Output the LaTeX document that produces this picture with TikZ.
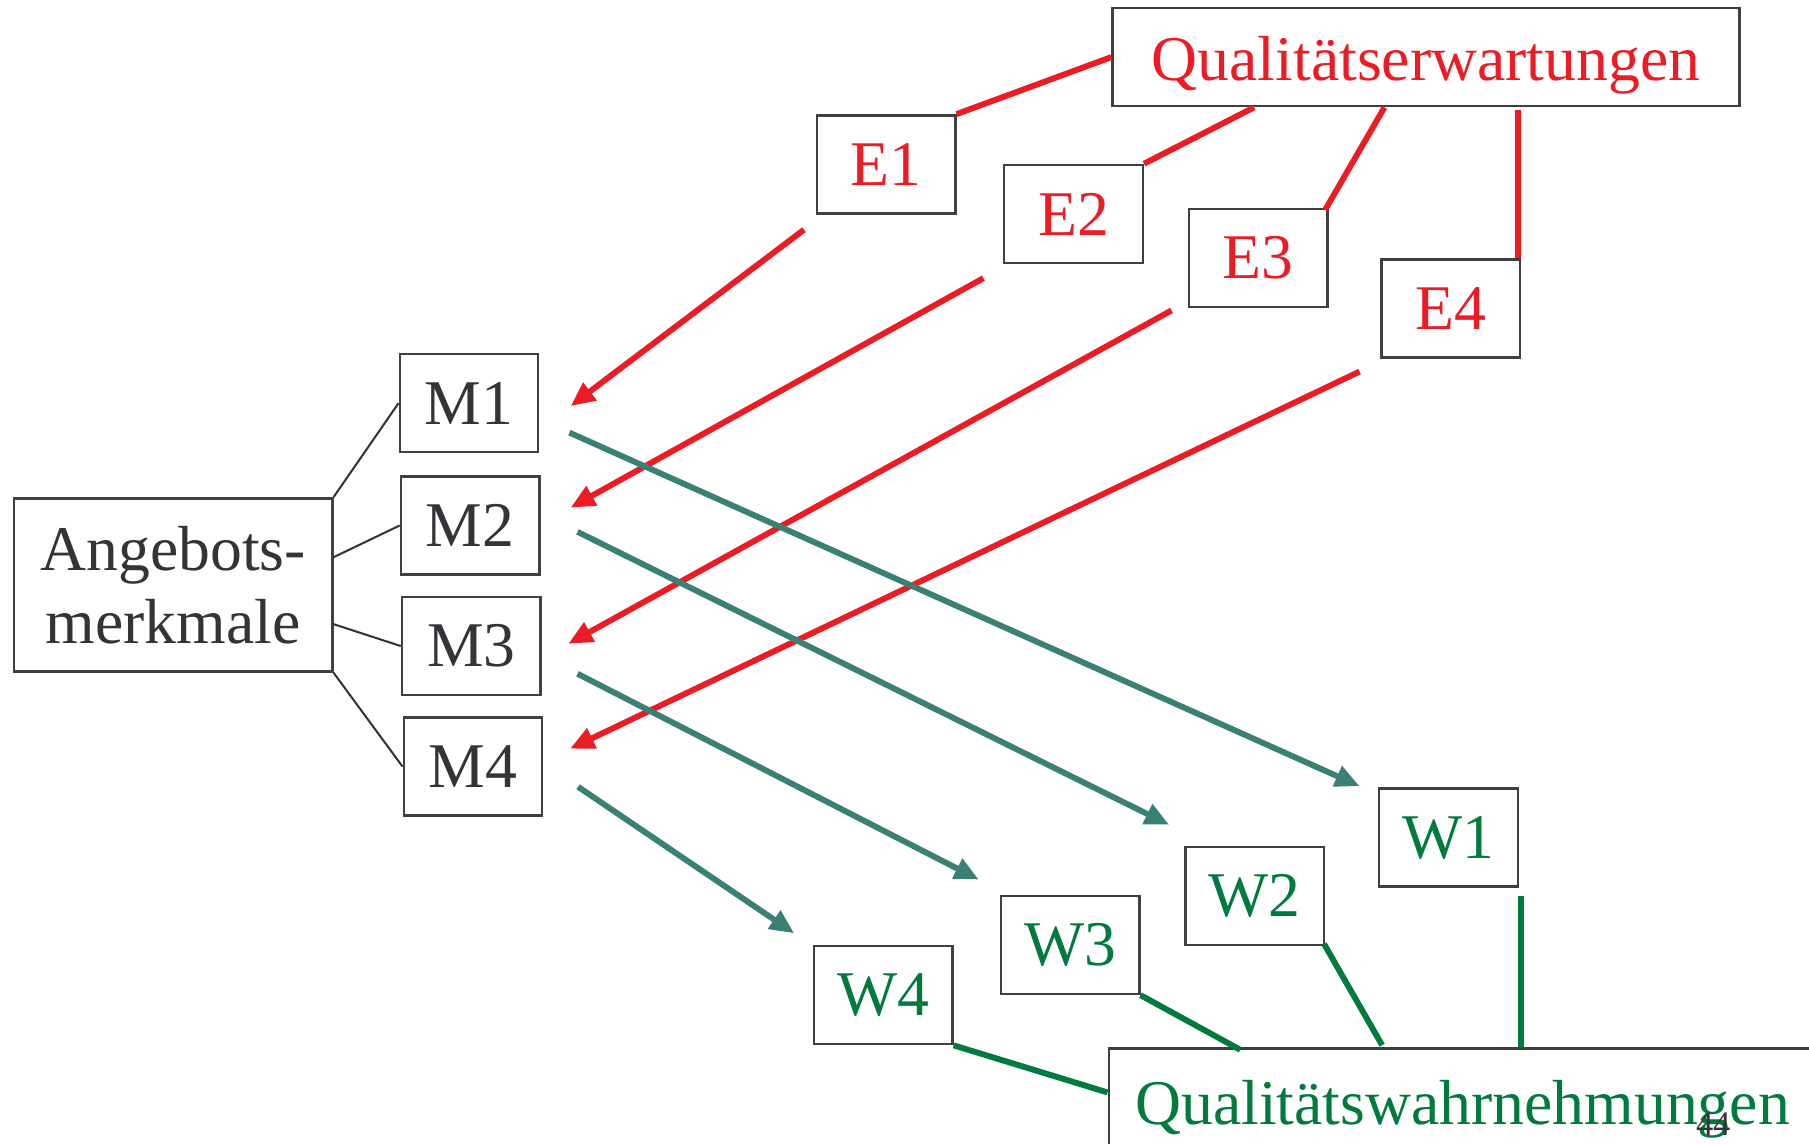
\documentclass[tikz,border=0pt]{standalone}
\usepackage{fontspec}
\setmainfont{Liberation Serif}
\usetikzlibrary{positioning, calc, arrows.meta}

\definecolor{qred}{RGB}{237,28,36}
\definecolor{qgreen}{RGB}{0,122,61}
\definecolor{qteal}{RGB}{58,128,116}
\definecolor{boxgray}{RGB}{64,64,64}
\definecolor{txtgray}{RGB}{51,51,56}

\tikzset{
  box/.style={draw=boxgray, line width=0.6pt, inner sep=0pt, minimum width=1.2cm, minimum height=0.85cm, font=\fontsize{15.7}{18}\selectfont},
  ebox/.style={box, text=qred},
  mbox/.style={box, text=txtgray},
  wbox/.style={box, text=qgreen},
  redline/.style={draw=qred, line width=1.45pt},
  redarrow/.style={redline, -{Triangle[length=6pt,width=5.2pt]}},
  tealarrow/.style={draw=qteal, line width=1.45pt, -{Triangle[length=6pt,width=5.2pt]}},
  greenline/.style={draw=qgreen, line width=1.45pt},
  thinline/.style={draw=txtgray, line width=0.5pt}
}

\begin{document}
\begin{tikzpicture}[x=0.01cm, y=-0.01cm]
        \clip (0,0) rectangle (1568,991);
        % Erwartungen
        \node [box, text=qred, minimum width=5.43cm, text height=0.55cm, text depth=0.14cm] (QE) at (1236,49.5) {Qualitätserwartungen};
        \node [ebox] (E1) at (768,142.5) {E1};
        \node [ebox] (E2) at (930.5,185.5) {E2};
        \node [ebox] (E3) at (1090.5,223.5) {E3};
        \node [ebox] (E4) at (1257.5,267.5) {E4};
        % Merkmale
        \node [box, text=txtgray, minimum width=2.76cm, minimum height=1.5cm, align=center] (AM) at (150,507) {Angebots-\\merkmale};
        \node [mbox] (M1) at (406.5,349.5) {M1};
        \node [mbox] (M2) at (407.5,455.5) {M2};
        \node [mbox] (M3) at (408.5,560) {M3};
        \node [mbox] (M4) at (410,664.5) {M4};
        % Wahrnehmungen
        \node [wbox] (W1) at (1255.5,726) {W1};
        \node [wbox] (W2) at (1087.5,776.5) {W2};
        \node [wbox] (W3) at (927.5,819) {W3};
        \node [wbox] (W4) at (765.5,862.5) {W4};
        \node [box, text=qgreen, anchor=base west, inner xsep=0.23cm, inner ysep=0pt, text height=0.66cm, text depth=1cm] (QW) at (960,975) {Qualitätswahrnehmungen};
        \node [text=txtgray, font=\fontsize{8.5}{10}\selectfont] (page) at (1485,974) {44};

        \draw [thinline] (AM.north east) -- (M1.west);
        \draw [thinline] ($(AM.east)+(0,-24)$) -- (M2.west);
        \draw [thinline] ($(AM.east)+(0,34)$) -- (M3.west);
        \draw [thinline] (AM.south east) -- (M4.west);

        \draw [redline] (QE.west) -- (E1.north east);
        \draw [redline] ($(QE.south)+(-149,0)$) -- (E2.north east);
        \draw [redline] ($(QE.south)+(-36,0)$) -- ($(E3.north east)+(-3,2)$);
        \draw [redline] ($(E4.north east |- QE.south)+(-3,2)$) -- ($(E4.north east)+(-3,0)$);

        \draw [redarrow] ($(E1.south west)+(-10,13)$) -- ($(M1.east)+(27,2.5)$);
        \draw [redarrow] ($(E2.south west)+(-17,12)$) -- ($(M2.east)+(26,-15.5)$);
        \draw [redarrow] ($(E3.south west)+(-14,2)$) -- ($(M3.east)+(23,-2)$);
        \draw [redarrow] ($(E4.south west)+(-18,11)$) -- ($(M4.east)+(23,-15.5)$);

        \draw [tealarrow] ($(M1.east)+(26,25.5)$) -- ($(W1.north west)+(-16,-1)$);
        \draw [tealarrow] ($(M2.east)+(32,5.5)$) -- ($(W2.north west)+(-13,-18)$);
        \draw [tealarrow] ($(M3.east)+(31,24)$) -- ($(W3.north west)+(-18,-13)$);
        \draw [tealarrow] ($(M4.east)+(30,17.5)$) -- ($(W4.north west)+(-16,-10)$);

        \draw [greenline] ($(W1.south east)+(2,7)$) -- ($(W1.south east |- QW.north)+(2,0)$);
        \draw [greenline] ($(W2.south east)+(-1,-2)$) -- ($(QW.north west)+(238,-2)$);
        \draw [greenline] (W3.south east) -- ($(QW.north west)+(115,2)$);
        \draw [greenline] (W4.south east) -- ($(QW.north west)+(0,39)$);
    \end{tikzpicture}
\end{document}
